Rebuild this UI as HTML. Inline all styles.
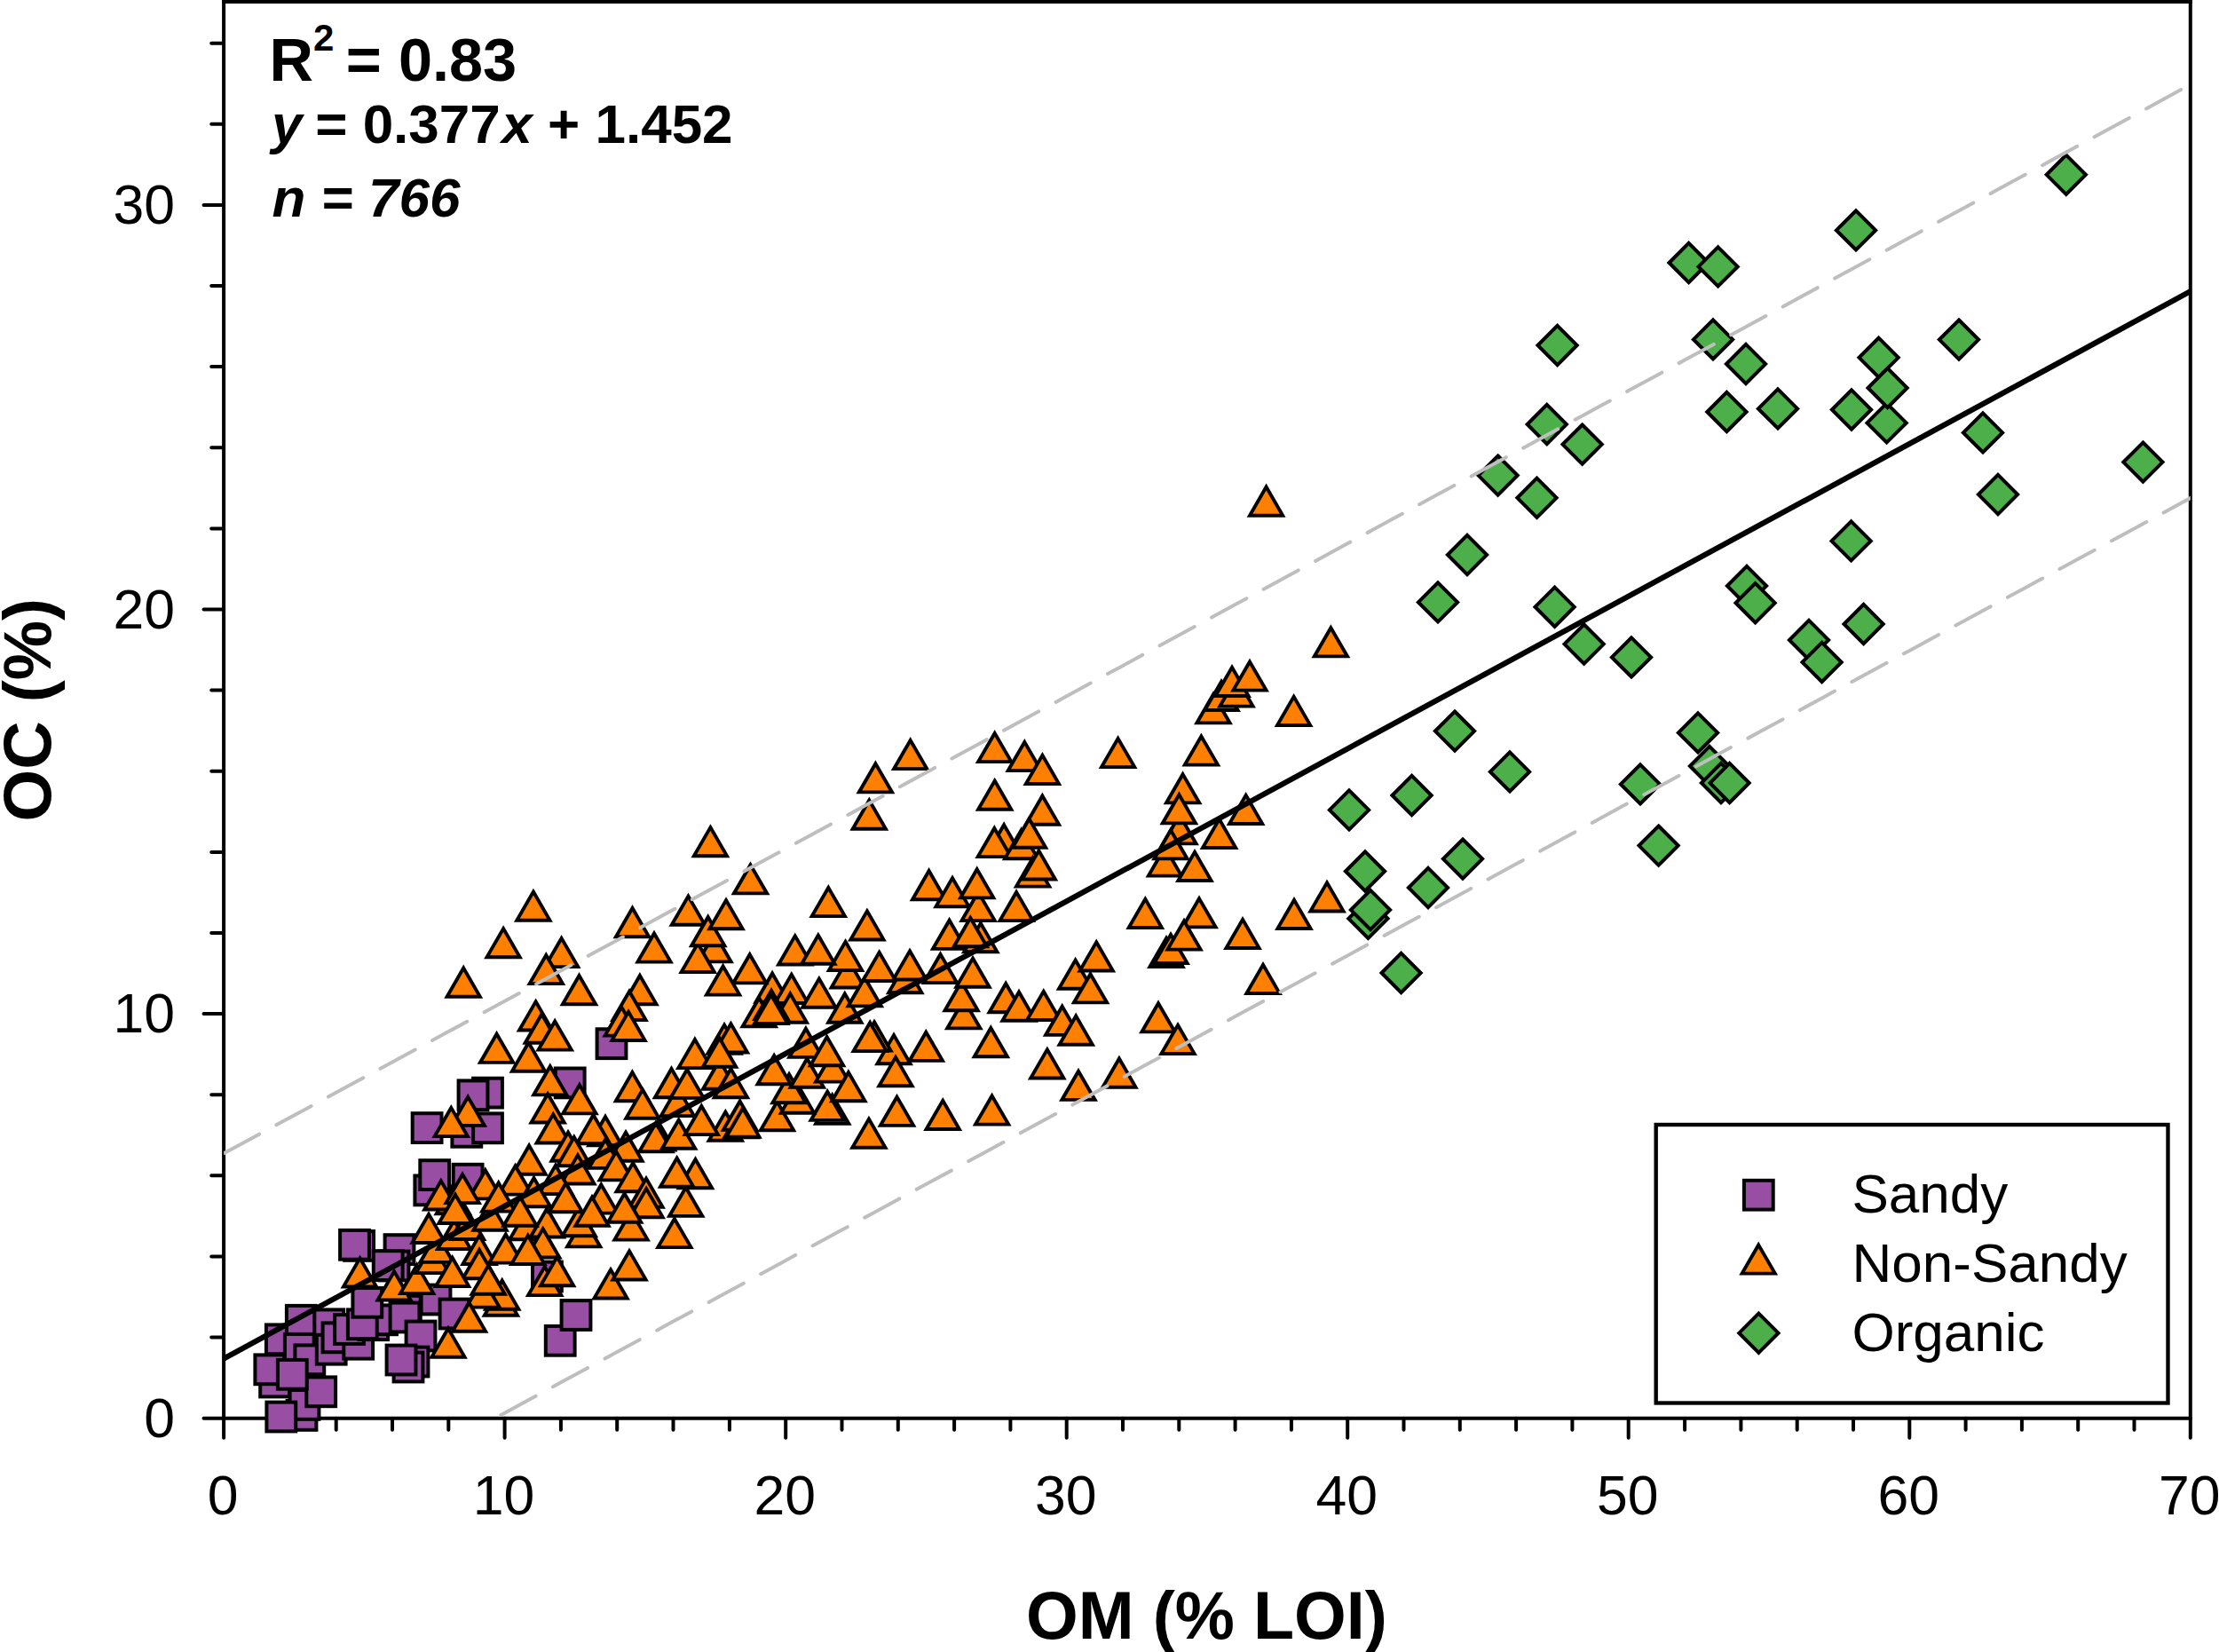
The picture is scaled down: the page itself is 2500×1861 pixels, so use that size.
<!DOCTYPE html>
<html lang="en"><head><meta charset="utf-8"><title>OC vs OM</title>
<style>html,body{margin:0;padding:0;background:#fff}svg{display:block}text{font-family:"Liberation Sans", Arial, Helvetica, sans-serif;fill:#000}.tk{font-size:62.5px}.b{font-weight:bold}.i{font-style:italic}.ax{stroke:#000;stroke-width:4;fill:none;stroke-linecap:round}.s{fill:#984ea3;stroke:#000;stroke-width:4;stroke-linejoin:miter}.t{fill:#ff7f00;stroke:#000;stroke-width:3.9;stroke-linejoin:miter;stroke-miterlimit:10}.d{fill:#4daf4a;stroke:#000;stroke-width:4;stroke-linejoin:miter}</style></head><body>
<svg width="2500" height="1861" viewBox="0 0 2500 1861">
<rect width="2500" height="1861" fill="#fff"/>
<defs>
<rect id="s" class="s" x="-16.4" y="-16.4" width="32.8" height="32.8"/>
<path id="t" class="t" d="M0 -34.2 L18.6 -2 L-18.6 -2 Z"/>
<path id="d" class="d" d="M0 -22.1 L22.1 0 L0 22.1 L-22.1 0 Z"/>
</defs>
<g class="ax">
<path d="M252.1 0 V1597.7"/>
<path d="M252.1 1597.7 H2467.8"/>
<path d="M2467.8 0 V1597.7"/>
<path d="M250.1 2 H2469.8" stroke-linecap="butt"/>
<path d="M252.1 1597.7 v22 M315.4 1597.7 v13 M378.7 1597.7 v13 M442 1597.7 v13 M505.3 1597.7 v13 M568.6 1597.7 v22 M631.9 1597.7 v13 M695.2 1597.7 v13 M758.5 1597.7 v13 M821.9 1597.7 v13 M885.2 1597.7 v22 M948.5 1597.7 v13 M1011.8 1597.7 v13 M1075.1 1597.7 v13 M1138.4 1597.7 v13 M1201.7 1597.7 v22 M1265 1597.7 v13 M1328.3 1597.7 v13 M1391.6 1597.7 v13 M1454.9 1597.7 v13 M1518.2 1597.7 v22 M1581.5 1597.7 v13 M1644.8 1597.7 v13 M1708.1 1597.7 v13 M1771.4 1597.7 v13 M1834.7 1597.7 v22 M1898.1 1597.7 v13 M1961.4 1597.7 v13 M2024.7 1597.7 v13 M2088 1597.7 v13 M2151.3 1597.7 v22 M2214.6 1597.7 v13 M2277.9 1597.7 v13 M2341.2 1597.7 v13 M2404.5 1597.7 v13 M2467.8 1597.7 v22 M252.1 1597.7 h-22.6 M252.1 1506.6 h-13.9 M252.1 1415.5 h-13.9 M252.1 1324.3 h-13.9 M252.1 1233.2 h-13.9 M252.1 1142.1 h-22.6 M252.1 1051 h-13.9 M252.1 959.9 h-13.9 M252.1 868.7 h-13.9 M252.1 777.6 h-13.9 M252.1 686.5 h-22.6 M252.1 595.4 h-13.9 M252.1 504.3 h-13.9 M252.1 413.1 h-13.9 M252.1 322 h-13.9 M252.1 230.9 h-22.6 M252.1 139.8 h-13.9 M252.1 48.7 h-13.9"/>
</g>
<g class="tk" text-anchor="middle">
<text x="251.1" y="1706">0</text>
<text x="567.6" y="1706">10</text>
<text x="884.2" y="1706">20</text>
<text x="1200.7" y="1706">30</text>
<text x="1517.2" y="1706">40</text>
<text x="1833.7" y="1706">50</text>
<text x="2150.3" y="1706">60</text>
<text x="2466.8" y="1706">70</text>
</g>
<g class="tk" text-anchor="end">
<text x="197" y="1618.7">0</text>
<text x="197" y="1163.1">10</text>
<text x="197" y="707.5">20</text>
<text x="197" y="251.9">30</text>
</g>
<text class="b" font-size="75.5" text-anchor="middle" x="1359.5" y="1846">OM (% LOI)</text>
<text class="b" font-size="75.5" text-anchor="middle" transform="translate(56.5 799.7) rotate(-90)">OC (%)</text>
<g>
<use href="#s" x="340" y="1594.4"/>
<use href="#s" x="343" y="1582.4"/>
<use href="#s" x="309.6" y="1557"/>
<use href="#s" x="316.8" y="1596"/>
<use href="#s" x="316.3" y="1508.8"/>
<use href="#s" x="303.8" y="1542.8"/>
<use href="#s" x="339.3" y="1487.3"/>
<use href="#s" x="337.3" y="1519.3"/>
<use href="#s" x="361.7" y="1567.8"/>
<use href="#s" x="348.8" y="1531.8"/>
<use href="#s" x="329.3" y="1548.3"/>
<use href="#s" x="370.7" y="1491.8"/>
<use href="#s" x="373.2" y="1520.2"/>
<use href="#s" x="380" y="1506.8"/>
<use href="#s" x="403.7" y="1514.2"/>
<use href="#s" x="393.5" y="1497.5"/>
<use href="#s" x="420.7" y="1492.7"/>
<use href="#s" x="430.5" y="1486.8"/>
<use href="#s" x="408.3" y="1491.8"/>
<use href="#s" x="413.8" y="1467.3"/>
<use href="#s" x="404.6" y="1403.4"/>
<use href="#s" x="399.5" y="1402.3"/>
<use href="#s" x="450" y="1407.6"/>
<use href="#s" x="444" y="1426"/>
<use href="#s" x="437.2" y="1425.6"/>
<use href="#s" x="457.3" y="1476.2"/>
<use href="#s" x="456" y="1484"/>
<use href="#s" x="491" y="1464"/>
<use href="#s" x="512" y="1480"/>
<use href="#s" x="474" y="1505"/>
<use href="#s" x="466" y="1534"/>
<use href="#s" x="460" y="1540"/>
<use href="#s" x="452" y="1532"/>
<use href="#s" x="483.8" y="1340.9"/>
<use href="#s" x="489.7" y="1323.6"/>
<use href="#s" x="527.1" y="1328.2"/>
<use href="#s" x="481.1" y="1270.6"/>
<use href="#s" x="525.8" y="1275.3"/>
<use href="#s" x="549.5" y="1231.1"/>
<use href="#s" x="533" y="1233.8"/>
<use href="#s" x="549.5" y="1270.8"/>
<use href="#s" x="642.2" y="1219.9"/>
<use href="#s" x="689" y="1175.7"/>
<use href="#s" x="616.4" y="1438"/>
<use href="#s" x="631.2" y="1510.3"/>
<use href="#s" x="649" y="1481.5"/>
</g><g>
<use href="#t" x="405.5" y="1451.5"/>
<use href="#t" x="444.1" y="1466.5"/>
<use href="#t" x="469.7" y="1459.1"/>
<use href="#t" x="487.3" y="1436.1"/>
<use href="#t" x="492" y="1423.9"/>
<use href="#t" x="483" y="1402"/>
<use href="#t" x="511.6" y="1409"/>
<use href="#t" x="526.5" y="1398"/>
<use href="#t" x="552" y="1387.8"/>
<use href="#t" x="592.8" y="1398.3"/>
<use href="#t" x="616.3" y="1395.5"/>
<use href="#t" x="540" y="1426"/>
<use href="#t" x="540" y="1442.2"/>
<use href="#t" x="509.6" y="1451"/>
<use href="#t" x="564.4" y="1483.8"/>
<use href="#t" x="565.7" y="1476.7"/>
<use href="#t" x="544.1" y="1474.6"/>
<use href="#t" x="550.2" y="1459.8"/>
<use href="#t" x="528.5" y="1501.7"/>
<use href="#t" x="504.9" y="1530.7"/>
<use href="#t" x="569.8" y="1424.6"/>
<use href="#t" x="611.7" y="1418.5"/>
<use href="#t" x="594.8" y="1426"/>
<use href="#t" x="613.7" y="1461.1"/>
<use href="#t" x="627.6" y="1450.3"/>
<use href="#t" x="657.7" y="1406.4"/>
<use href="#t" x="652.2" y="1394.3"/>
<use href="#t" x="688" y="1464.5"/>
<use href="#t" x="709" y="1443.5"/>
<use href="#t" x="711" y="1398.6"/>
<use href="#t" x="527.2" y="1269.9"/>
<use href="#t" x="508.3" y="1282.1"/>
<use href="#t" x="559.6" y="1198.9"/>
<use href="#t" x="595.5" y="1208.7"/>
<use href="#t" x="619.8" y="1235.4"/>
<use href="#t" x="617.1" y="1266.5"/>
<use href="#t" x="652.9" y="1256.4"/>
<use href="#t" x="712.4" y="1242.2"/>
<use href="#t" x="723.9" y="1261.8"/>
<use href="#t" x="623.2" y="1289.5"/>
<use href="#t" x="682" y="1292.2"/>
<use href="#t" x="668.5" y="1290.2"/>
<use href="#t" x="640" y="1309.8"/>
<use href="#t" x="646.8" y="1315.2"/>
<use href="#t" x="596.1" y="1324.7"/>
<use href="#t" x="741.5" y="1297.6"/>
<use href="#t" x="705" y="1309.8"/>
<use href="#t" x="682" y="1317.9"/>
<use href="#t" x="694.2" y="1331.4"/>
<use href="#t" x="713.1" y="1344.3"/>
<use href="#t" x="650.9" y="1335.5"/>
<use href="#t" x="625.9" y="1347"/>
<use href="#t" x="580.6" y="1347.6"/>
<use href="#t" x="546.8" y="1352.4"/>
<use href="#t" x="510.3" y="1369.3"/>
<use href="#t" x="496.8" y="1364.5"/>
<use href="#t" x="521.1" y="1357.1"/>
<use href="#t" x="561.7" y="1366.6"/>
<use href="#t" x="601.5" y="1361.2"/>
<use href="#t" x="637.4" y="1367.2"/>
<use href="#t" x="677.3" y="1368.6"/>
<use href="#t" x="728" y="1361.8"/>
<use href="#t" x="728.1" y="1373.3"/>
<use href="#t" x="703.6" y="1378.7"/>
<use href="#t" x="513" y="1380"/>
<use href="#t" x="586" y="1382.8"/>
<use href="#t" x="667" y="1382.8"/>
<use href="#t" x="759.9" y="1407.1"/>
<use href="#t" x="772.7" y="1371.9"/>
<use href="#t" x="783.5" y="1340.2"/>
<use href="#t" x="762.6" y="1338.8"/>
<use href="#t" x="978.9" y="1294.8"/>
<use href="#t" x="738.9" y="1299.3"/>
<use href="#t" x="764.6" y="1295.8"/>
<use href="#t" x="817.3" y="1286.8"/>
<use href="#t" x="834.9" y="1283.4"/>
<use href="#t" x="833.6" y="1274.7"/>
<use href="#t" x="836.9" y="1282.8"/>
<use href="#t" x="790.3" y="1280.1"/>
<use href="#t" x="875.5" y="1275.3"/>
<use href="#t" x="937.7" y="1267.9"/>
<use href="#t" x="932.2" y="1263.9"/>
<use href="#t" x="1010.5" y="1269.9"/>
<use href="#t" x="898.5" y="1255.7"/>
<use href="#t" x="889" y="1244.3"/>
<use href="#t" x="872.1" y="1223.3"/>
<use href="#t" x="909.3" y="1226.7"/>
<use href="#t" x="937.7" y="1220.6"/>
<use href="#t" x="955.9" y="1242.2"/>
<use href="#t" x="907.9" y="1192.9"/>
<use href="#t" x="931.6" y="1202.3"/>
<use href="#t" x="1007" y="1200.3"/>
<use href="#t" x="985" y="1185.5"/>
<use href="#t" x="980.2" y="1186.1"/>
<use href="#t" x="1009" y="1225.3"/>
<use href="#t" x="810.6" y="1228.7"/>
<use href="#t" x="823.4" y="1238.2"/>
<use href="#t" x="763.3" y="1259.1"/>
<use href="#t" x="756.5" y="1238.2"/>
<use href="#t" x="774.1" y="1238.9"/>
<use href="#t" x="782.9" y="1205.1"/>
<use href="#t" x="816" y="1188.8"/>
<use href="#t" x="823.4" y="1187.5"/>
<use href="#t" x="810.6" y="1203.7"/>
<use href="#t" x="870.1" y="1130.7"/>
<use href="#t" x="891.7" y="1132"/>
<use href="#t" x="890.3" y="1153.7"/>
<use href="#t" x="855.2" y="1158.4"/>
<use href="#t" x="869" y="1150"/>
<use href="#t" x="868.7" y="1155"/>
<use href="#t" x="922.8" y="1136.8"/>
<use href="#t" x="951.8" y="1153.7"/>
<use href="#t" x="955.2" y="1114.5"/>
<use href="#t" x="974.2" y="1135.4"/>
<use href="#t" x="952.5" y="1095"/>
<use href="#t" x="990.6" y="1107"/>
<use href="#t" x="1019.8" y="1120.2"/>
<use href="#t" x="895.7" y="1088.5"/>
<use href="#t" x="921.8" y="1087.8"/>
<use href="#t" x="844.7" y="1109.4"/>
<use href="#t" x="814.6" y="1122.6"/>
<use href="#t" x="805" y="1085.4"/>
<use href="#t" x="786.2" y="1097"/>
<use href="#t" x="737" y="1085.6"/>
<use href="#t" x="720.9" y="1133.2"/>
<use href="#t" x="709" y="1151"/>
<use href="#t" x="700.2" y="1168.6"/>
<use href="#t" x="708" y="1174"/>
<use href="#t" x="1062.2" y="1274"/>
<use href="#t" x="1117.6" y="1268.6"/>
<use href="#t" x="1215" y="1240.9"/>
<use href="#t" x="1260.9" y="1226.7"/>
<use href="#t" x="1179.8" y="1216.5"/>
<use href="#t" x="1116.3" y="1192.2"/>
<use href="#t" x="1043.3" y="1196.9"/>
<use href="#t" x="1085.8" y="1160.4"/>
<use href="#t" x="1083.1" y="1140.2"/>
<use href="#t" x="1096" y="1113.8"/>
<use href="#t" x="1133.2" y="1142.2"/>
<use href="#t" x="1148" y="1151.7"/>
<use href="#t" x="1175.7" y="1151"/>
<use href="#t" x="1196.7" y="1167.9"/>
<use href="#t" x="1212.2" y="1178.7"/>
<use href="#t" x="1211.6" y="1115.8"/>
<use href="#t" x="1228.5" y="1131.4"/>
<use href="#t" x="1235.2" y="1095.5"/>
<use href="#t" x="1025" y="1105.5"/>
<use href="#t" x="1059.5" y="1109.1"/>
<use href="#t" x="1305" y="1164.4"/>
<use href="#t" x="1327" y="1189"/>
<use href="#t" x="1423" y="1121"/>
<use href="#t" x="1400" y="1070"/>
<use href="#t" x="1458" y="1048"/>
<use href="#t" x="1495" y="1028.5"/>
<use href="#t" x="1351" y="1046.4"/>
<use href="#t" x="1290.3" y="1047"/>
<use href="#t" x="1314" y="1091"/>
<use href="#t" x="1319" y="1087"/>
<use href="#t" x="1334" y="1071.6"/>
<use href="#t" x="1499.4" y="741.4"/>
<use href="#t" x="1457.6" y="819"/>
<use href="#t" x="1367" y="816.4"/>
<use href="#t" x="1376" y="802"/>
<use href="#t" x="1393" y="797.6"/>
<use href="#t" x="1388" y="786"/>
<use href="#t" x="1408" y="779.6"/>
<use href="#t" x="1353.4" y="863.6"/>
<use href="#t" x="1332.6" y="906.4"/>
<use href="#t" x="1329" y="952.4"/>
<use href="#t" x="1312.5" y="988.6"/>
<use href="#t" x="1319" y="969.4"/>
<use href="#t" x="1328.4" y="929.4"/>
<use href="#t" x="1346" y="994"/>
<use href="#t" x="1373.6" y="957"/>
<use href="#t" x="1403.6" y="930"/>
<use href="#t" x="1426.6" y="582.7"/>
<use href="#t" x="522.2" y="1124.7"/>
<use href="#t" x="567.1" y="1080.3"/>
<use href="#t" x="600.9" y="1038.8"/>
<use href="#t" x="632.6" y="1091.1"/>
<use href="#t" x="615.3" y="1110.1"/>
<use href="#t" x="652.5" y="1133.2"/>
<use href="#t" x="712.5" y="1057.2"/>
<use href="#t" x="603.6" y="1162.5"/>
<use href="#t" x="610.3" y="1176.7"/>
<use href="#t" x="800.4" y="966.3"/>
<use href="#t" x="845.5" y="1008.4"/>
<use href="#t" x="979.3" y="935.7"/>
<use href="#t" x="986.4" y="894.4"/>
<use href="#t" x="933.3" y="1034.1"/>
<use href="#t" x="976.9" y="1060.5"/>
<use href="#t" x="775.4" y="1043.8"/>
<use href="#t" x="797.7" y="1067.2"/>
<use href="#t" x="818" y="1048.3"/>
<use href="#t" x="1025.7" y="868.1"/>
<use href="#t" x="1120.7" y="860.1"/>
<use href="#t" x="1120.7" y="913.8"/>
<use href="#t" x="1154.3" y="870.1"/>
<use href="#t" x="1174.4" y="885"/>
<use href="#t" x="1259.6" y="866.1"/>
<use href="#t" x="1174.4" y="930.7"/>
<use href="#t" x="1131.1" y="963.4"/>
<use href="#t" x="1120.3" y="967.1"/>
<use href="#t" x="1150.7" y="969.2"/>
<use href="#t" x="1159.5" y="956.7"/>
<use href="#t" x="1163.6" y="1000.6"/>
<use href="#t" x="1170.3" y="992.5"/>
<use href="#t" x="1046.6" y="1015.2"/>
<use href="#t" x="1073" y="1023.3"/>
<use href="#t" x="1102.1" y="1039.1"/>
<use href="#t" x="1100.7" y="1013.4"/>
<use href="#t" x="1145.1" y="1039.1"/>
<use href="#t" x="1069.6" y="1070.9"/>
<use href="#t" x="1104.8" y="1074.3"/>
<use href="#t" x="1093.3" y="1068.2"/>
<use href="#t" x="625.2" y="1184.6"/>
</g><g>
<use href="#d" x="1578.6" y="1096"/>
<use href="#d" x="1541.4" y="1034.8"/>
<use href="#d" x="1544" y="1025"/>
<use href="#d" x="1609" y="1000"/>
<use href="#d" x="1538" y="981.5"/>
<use href="#d" x="1620" y="678.4"/>
<use href="#d" x="1639" y="823.6"/>
<use href="#d" x="1701" y="869.4"/>
<use href="#d" x="1590.6" y="896"/>
<use href="#d" x="1520" y="912.4"/>
<use href="#d" x="1648" y="967.6"/>
<use href="#d" x="1687.6" y="535.6"/>
<use href="#d" x="1653" y="625"/>
<use href="#d" x="1731.5" y="560.8"/>
<use href="#d" x="1742.8" y="478"/>
<use href="#d" x="1754.6" y="389"/>
<use href="#d" x="1782.6" y="500.6"/>
<use href="#d" x="1930" y="382.4"/>
<use href="#d" x="1967" y="410"/>
<use href="#d" x="1945.4" y="464"/>
<use href="#d" x="2003" y="460.4"/>
<use href="#d" x="2116.6" y="402.8"/>
<use href="#d" x="2125.6" y="476.4"/>
<use href="#d" x="2126.6" y="437"/>
<use href="#d" x="2086" y="461.5"/>
<use href="#d" x="2085.6" y="609.4"/>
<use href="#d" x="1968" y="660"/>
<use href="#d" x="1977.6" y="679.2"/>
<use href="#d" x="1751.6" y="683.7"/>
<use href="#d" x="1902.6" y="296"/>
<use href="#d" x="1935.6" y="300.4"/>
<use href="#d" x="2091" y="259.4"/>
<use href="#d" x="2327.8" y="196.8"/>
<use href="#d" x="2207" y="382.6"/>
<use href="#d" x="2234" y="487.4"/>
<use href="#d" x="2251" y="557"/>
<use href="#d" x="2414.4" y="520.6"/>
<use href="#d" x="1784.6" y="725.6"/>
<use href="#d" x="1838" y="740.4"/>
<use href="#d" x="2038" y="721"/>
<use href="#d" x="2052.6" y="746"/>
<use href="#d" x="2099.6" y="703"/>
<use href="#d" x="1926" y="863"/>
<use href="#d" x="1913" y="825.4"/>
<use href="#d" x="1939" y="882"/>
<use href="#d" x="1948.6" y="882"/>
<use href="#d" x="1848" y="883.4"/>
<use href="#d" x="1868.6" y="952.6"/>
</g>
<clipPath id="cp"><rect x="252.1" y="0" width="2215.7" height="1597.7"/></clipPath>
<g clip-path="url(#cp)" fill="none">
<path d="M157.1 1815 L188.8 1797.8 L220.4 1780.6 L252.1 1763.4 L283.8 1746.3 L315.4 1729.1 L347.1 1711.9 L378.7 1694.7 L410.4 1677.6 L442 1660.4 L473.7 1643.2 L505.3 1626 L537 1608.9 L568.6 1591.7 L600.3 1574.5 L631.9 1557.3 L663.6 1540.2 L695.2 1523 L726.9 1505.8 L758.5 1488.6 L790.2 1471.5 L821.9 1454.3 L853.5 1437.1 L885.2 1419.9 L916.8 1402.7 L948.5 1385.6 L980.1 1368.4 L1011.8 1351.2 L1043.4 1334 L1075.1 1316.9 L1106.7 1299.7 L1138.4 1282.5 L1170 1265.3 L1201.7 1248.2 L1233.3 1231 L1265 1213.8 L1296.6 1196.6 L1328.3 1179.5 L1360 1162.3 L1391.6 1145.1 L1423.3 1127.9 L1454.9 1110.8 L1486.6 1093.6 L1518.2 1076.4 L1549.9 1059.2 L1581.5 1042.1 L1613.2 1024.9 L1644.8 1007.7 L1676.5 990.5 L1708.1 973.3 L1739.8 956.2 L1771.4 939 L1803.1 921.8 L1834.7 904.6 L1866.4 887.5 L1898.1 870.3 L1929.7 853.1 L1961.4 835.9 L1993 818.8 L2024.7 801.6 L2056.3 784.4 L2088 767.2 L2119.6 750.1 L2151.3 732.9 L2182.9 715.7 L2214.6 698.5 L2246.2 681.4 L2277.9 664.2 L2309.5 647 L2341.2 629.8 L2372.9 612.6 L2404.5 595.5 L2436.2 578.3 L2467.8 561.1 L2499.5 543.9 L2531.1 526.8 L2562.8 509.6" stroke="#bebebe" stroke-width="4" stroke-linecap="round" stroke-dasharray="44.6 22" stroke-dashoffset="2.79"/>
<path d="M157.1 1350.7 L188.8 1333.6 L220.4 1316.5 L252.1 1299.3 L283.8 1282.2 L315.4 1265 L347.1 1247.9 L378.7 1230.7 L410.4 1213.6 L442 1196.4 L473.7 1179.3 L505.3 1162.1 L537 1145 L568.6 1127.8 L600.3 1110.6 L631.9 1093.5 L663.6 1076.3 L695.2 1059.2 L726.9 1042 L758.5 1024.8 L790.2 1007.6 L821.9 990.5 L853.5 973.3 L885.2 956.1 L916.8 938.9 L948.5 921.8 L980.1 904.6 L1011.8 887.4 L1043.4 870.2 L1075.1 853 L1106.7 835.9 L1138.4 818.7 L1170 801.5 L1201.7 784.3 L1233.3 767.1 L1265 749.9 L1296.6 732.7 L1328.3 715.5 L1360 698.3 L1391.6 681.1 L1423.3 663.9 L1454.9 646.7 L1486.6 629.5 L1518.2 612.3 L1549.9 595.1 L1581.5 577.9 L1613.2 560.6 L1644.8 543.4 L1676.5 526.2 L1708.1 509 L1739.8 491.8 L1771.4 474.5 L1803.1 457.3 L1834.7 440.1 L1866.4 422.9 L1898.1 405.6 L1929.7 388.4 L1961.4 371.2 L1993 354 L2024.7 336.7 L2056.3 319.5 L2088 302.2 L2119.6 285 L2151.3 267.8 L2182.9 250.5 L2214.6 233.3 L2246.2 216 L2277.9 198.8 L2309.5 181.5 L2341.2 164.3 L2372.9 147 L2404.5 129.8 L2436.2 112.5 L2467.8 95.3 L2499.5 78 L2531.1 60.7 L2562.8 43.5" stroke="#bebebe" stroke-width="4" stroke-linecap="round" stroke-dasharray="44.6 22" stroke-dashoffset="24.38"/>
<path d="M252.1 1530.5 L2467.8 328.2" stroke="#000" stroke-width="6.2"/>
</g>
<g class="b">
<text x="303.5" y="91.2" font-size="68.5">R<tspan font-size="42" dy="-33.8">2</tspan><tspan dy="33.8" dx="-5.5"> = 0.83</tspan></text>
<text x="306" y="161.3" font-size="62"><tspan class="i">y</tspan><tspan dx="-2.5"> = 0.377</tspan><tspan class="i" dx="1.5">x</tspan> + 1.452</text>
<text x="306.5" y="244.2" font-size="62" class="i">n = 766</text>
</g>
<rect x="1865.7" y="1267" width="576.8" height="313.5" fill="#fff" stroke="#000" stroke-width="4.4"/>
<use href="#s" x="1981.3" y="1346.2"/>
<use href="#t" x="1981.2" y="1436.6"/>
<use href="#d" x="1981.4" y="1501.7"/>
<g font-size="62">
<text x="2086.5" y="1366">Sandy</text>
<text x="2086.5" y="1444">Non-Sandy</text>
<text x="2086.5" y="1522">Organic</text>
</g>
</svg></body></html>
